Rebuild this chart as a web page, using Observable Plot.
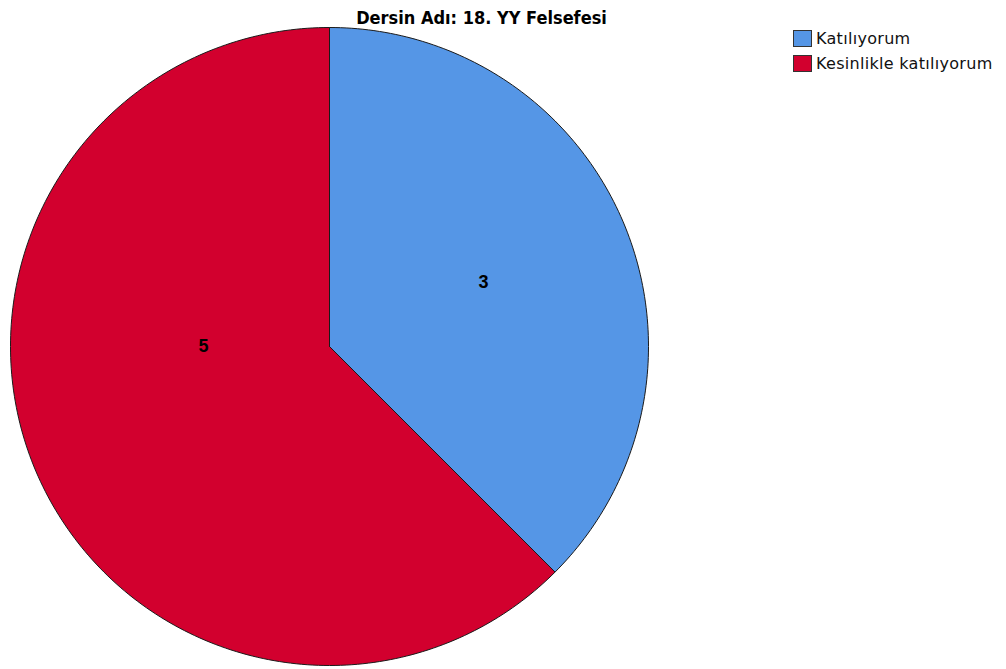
<!DOCTYPE html>
<html><head><meta charset="utf-8">
<script src="https://cdn.jsdelivr.net/npm/d3@7"></script>
<script src="https://cdn.jsdelivr.net/npm/@observablehq/plot@0.6"></script>
<style>
body{margin:0;background:#fff;}
#wrap{position:relative;width:1006px;height:669px;}
#legend{position:absolute;left:793px;top:26px;font-family:"DejaVu Sans",sans-serif;font-size:16px;letter-spacing:0.3px;color:#111;}
.item{display:flex;align-items:center;height:25px;white-space:nowrap}
.sw{width:19px;height:17px;border:1px solid #333;margin-right:4px;box-sizing:border-box}
</style></head><body><div id="wrap"><div id="legend"></div></div>
<script>
const title = "Dersin Adı: 18. YY Felsefesi";
const categories = ["Katılıyorum", "Kesinlikle katılıyorum"];
const counts = [3, 5];
const colors = ["#5596e6", "#d2002e"];

const arcs = d3.pie().sort(null).value(d => d)(counts);
const pts = [];
const labels = [];
arcs.forEach((a, i) => {
  const cat = categories[i];
  const span = a.endAngle - a.startAngle;
  const n = Math.max(2, Math.ceil(span / (Math.PI / 180)));
  pts.push({cat, x: 0, y: 0});
  for (let k = 0; k <= n; k++) {
    const t = a.startAngle + span * k / n;
    pts.push({cat, x: Math.sin(t), y: Math.cos(t)});
  }
  pts.push({cat, x: 0, y: 0});
  const mid = (a.startAngle + a.endAngle) / 2;
  let lx, ly;
  if (span > Math.PI) {
    lx = Math.sign(Math.sin(mid)) * 4 / (3 * Math.PI) * 0.93; ly = 0;
  } else {
    const h = span / 2;
    const d = 2 * Math.sin(h) / (3 * h);
    lx = d * Math.sin(mid); ly = d * Math.cos(mid);
  }
  labels.push({x: lx, y: ly, text: String(counts[i])});
});

const chart = Plot.plot({
  width: 1006, height: 669,
  marginLeft: 10, marginRight: 358, marginTop: 27, marginBottom: 4,
  x: {domain: [-1, 1], axis: null},
  y: {domain: [-1, 1], axis: null},
  color: {domain: categories, range: colors},
  style: {background: "white", fontFamily: "'Liberation Sans', Arial, sans-serif"},
  marks: [
    Plot.line(pts, {x: "x", y: "y", z: "cat", fill: "cat", stroke: "#1a1a1a", strokeWidth: 1, curve: "linear"}),
    Plot.text(labels, {x: "x", y: "y", text: "text", fontSize: 18, fontWeight: "bold", fill: "#000"}),
    Plot.text([title], {frameAnchor: "top", dx: 152, dy: -16, fontSize: 18, fontWeight: "bold", fill: "#000",
      fontFamily: "'DejaVu Sans Condensed', sans-serif"})
  ]
});
document.getElementById("wrap").prepend(chart);
chart.style.display = "block";

const leg = document.getElementById("legend");
categories.forEach((c, i) => {
  const it = document.createElement("div"); it.className = "item";
  const sw = document.createElement("span"); sw.className = "sw"; sw.style.background = colors[i];
  const tx = document.createElement("span"); tx.textContent = c;
  it.append(sw, tx); leg.append(it);
});
</script></body></html>
